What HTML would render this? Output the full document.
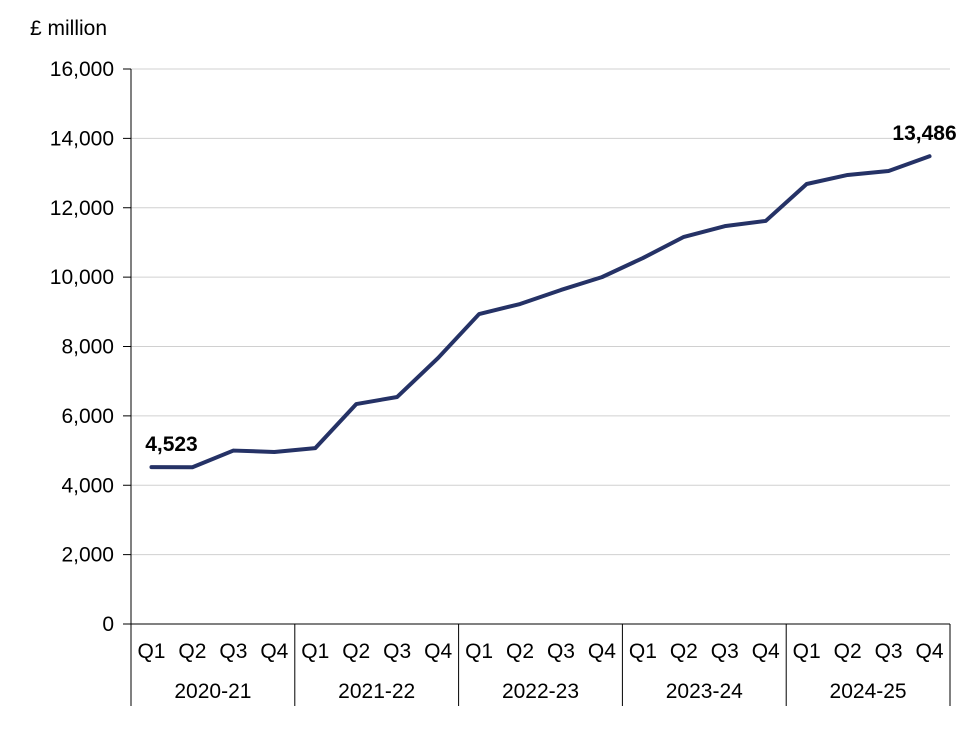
<!DOCTYPE html>
<html><head><meta charset="utf-8"><style>
body{margin:0;background:#fff;}
svg text{font-family:"Liberation Sans",Arial,sans-serif;fill:#000;}
</style></head><body>
<svg id="chart" width="974" height="725" xmlns="http://www.w3.org/2000/svg">
<text x="30" y="35" font-size="21">£ million</text>
<g id="grid"></g>
<g id="yt"></g>
<g id="xt"></g>
<path id="line" fill="none" stroke="#253266" stroke-width="4" stroke-linejoin="round" stroke-linecap="round"/>
<g id="lbl"></g>
</svg>
<script>
const years=["2020-21","2021-22","2022-23","2023-24","2024-25"];
const quarters=["Q1","Q2","Q3","Q4"];
const values=[4523,4520,5000,4960,5070,6340,6545,7670,8935,9225,9630,10000,10550,11160,11470,11620,12685,12945,13060,13486];
const yTicks=[0,2000,4000,6000,8000,10000,12000,14000,16000];
const x0=131,x1=950,yTop=69,yBot=624,yMax=16000;
const n=values.length,step=(x1-x0)/n;
const X=i=>x0+step*(i+0.5);
const Y=v=>yBot-(v/yMax)*(yBot-yTop);
const NS="http://www.w3.org/2000/svg";
function mk(tag,attrs,parent,txt){const e=document.createElementNS(NS,tag);for(const k in attrs)e.setAttribute(k,attrs[k]);if(txt!==undefined)e.textContent=txt;document.getElementById(parent).appendChild(e);return e;}
yTicks.forEach(t=>{
  const g=mk('line',{x1:x0,x2:x1,y1:Y(t),y2:Y(t),stroke:t===0?'#000':'#d0d0d0','stroke-width':1},'grid');
  
  
  const tk=mk('line',{x1:123,x2:x0,y1:Y(t),y2:Y(t),stroke:'#000','stroke-width':1},'grid');
  
  
  const l=mk('text',{x:114,y:Y(t)+7,'text-anchor':'end','font-size':21},'yt',t.toLocaleString('en-GB'));
  
  
});
mk('line',{x1:x0,x2:x0,y1:yTop,y2:yBot,stroke:'#000','stroke-width':1},'grid');
for(let i=0;i<n;i++){
  const q=mk('text',{x:X(i),y:658,'text-anchor':'middle','font-size':21},'xt',quarters[i%4]);
  
  
}
for(let g=0;g<=years.length;g++){
  const xx=x0+step*4*g;
  const s=mk('line',{x1:xx,x2:xx,y1:yBot,y2:706,stroke:'#000','stroke-width':1},'xt');
  
  
}
years.forEach((y,g)=>{
  const t=mk('text',{x:x0+step*4*(g+0.5),y:698,'text-anchor':'middle','font-size':21},'xt',y);
  
  
});
document.getElementById('line').setAttribute('d',values.map((v,i)=>(i?'L':'M')+X(i)+','+Y(v)).join(''));
[[0,values[0]],[n-1,values[n-1]]].forEach(([i,v])=>{
  const t=mk('text',{x:X(i)+(i?-5:20),y:Y(v)-16,'text-anchor':'middle','font-size':21,'font-weight':'bold'},'lbl',v.toLocaleString('en-GB'));
  
  
});
</script>
</body></html>
